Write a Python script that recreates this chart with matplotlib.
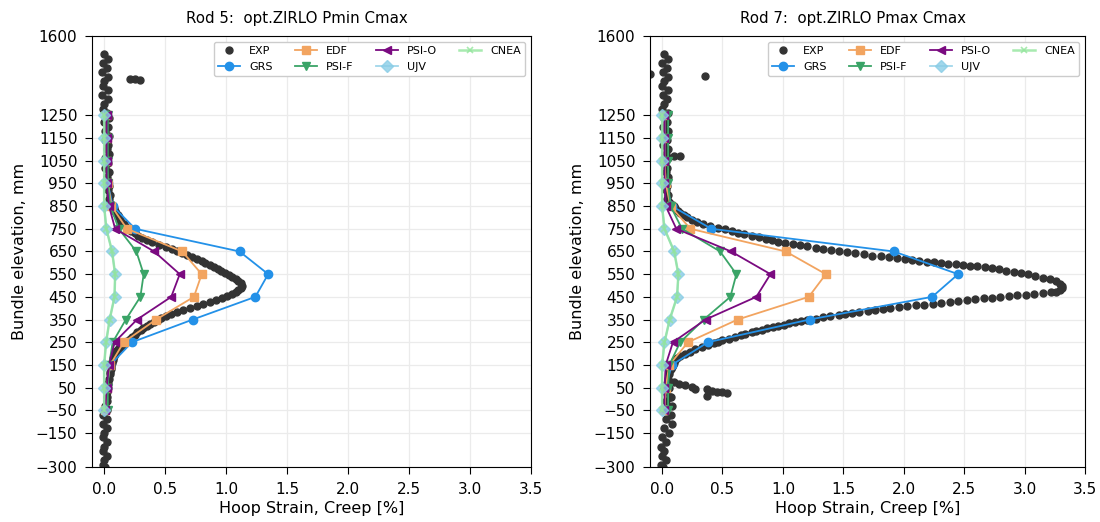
import matplotlib
matplotlib.use("Agg")
import matplotlib.pyplot as plt

plt.rcParams['font.family'] = ['DejaVu Sans']

# model elevations (mm)
elev = [1250, 1150, 1050, 950, 850, 750, 650, 550, 450, 350, 250, 150, 50, -50]
ytick_vals = [-300, -150, -50, 50, 150, 250, 350, 450, 550, 650, 750, 850, 950,
              1050, 1150, 1250, 1600]

# ---- Rod 5 model results (hoop strain, %)
r5_grs = [0.02, 0.02, 0.02, 0.03, 0.07, 0.255, 1.11, 1.345, 1.24, 0.727, 0.228, 0.05, 0.02, 0.01]
r5_edf = [0.02, 0.02, 0.02, 0.03, 0.06, 0.187, 0.64, 0.80, 0.736, 0.426, 0.16, 0.05, 0.02, 0.01]
r5_psif = [0.03, 0.03, 0.03, 0.03, 0.05, 0.12, 0.264, 0.324, 0.297, 0.178, 0.07, 0.04, 0.03, 0.03]
r5_psio = [0.02, 0.02, 0.02, 0.02, 0.04, 0.09, 0.41, 0.62, 0.55, 0.27, 0.085, 0.04, 0.02, 0.01]
r5_ujv = [0.0, 0.0, 0.0, 0.0, 0.0, 0.018, 0.065, 0.09, 0.085, 0.045, 0.016, 0.0, 0.0, 0.0]
r5_cnea = [0.0, 0.0, 0.0, 0.0, 0.0, 0.018, 0.065, 0.09, 0.085, 0.045, 0.016, 0.0, 0.0, 0.0]

# ---- Rod 7 model results (hoop strain, %)
r7_grs = [0.02, 0.02, 0.02, 0.03, 0.08, 0.408, 1.917, 2.45, 2.235, 1.22, 0.38, 0.08, 0.03, 0.02]
r7_edf = [0.02, 0.02, 0.02, 0.03, 0.07, 0.234, 1.023, 1.355, 1.214, 0.626, 0.215, 0.06, 0.03, 0.02]
r7_psif = [0.05, 0.05, 0.05, 0.05, 0.07, 0.165, 0.48, 0.615, 0.565, 0.345, 0.15, 0.06, 0.05, 0.05]
r7_psio = [0.02, 0.02, 0.02, 0.02, 0.03, 0.118, 0.571, 0.897, 0.78, 0.36, 0.09, 0.03, 0.02, 0.02]
r7_ujv = [0.0, 0.0, 0.0, 0.0, 0.0, 0.02, 0.10, 0.135, 0.124, 0.063, 0.02, 0.0, 0.0, 0.0]
r7_cnea = [0.0, 0.0, 0.0, 0.0, 0.0, 0.02, 0.10, 0.135, 0.124, 0.063, 0.02, 0.0, 0.0, 0.0]

# ---- Rod 5 measured profile (elevation mm, strain %)
r5_exp_z = [1520, 1500, 1480, 1460, 1440, 1420, 1400, 1380, 1360, 1340, 1320, 1300,
            1280, 1260, 1240, 1220, 1200, 1180, 1160, 1140, 1120, 1100, 1080, 1060,
            1040, 1020, 1000, 980, 960, 940, 920, 900, 880, 860,
            1410, 1410, 1408,
            850, 840, 830, 820, 810, 800, 790, 780, 770, 760, 750, 740, 730, 720,
            710, 700, 690, 680, 671, 662, 653, 644, 635, 626, 617, 608, 599, 590,
            581, 572, 563, 554, 545, 536, 527, 518, 509, 500, 491, 482, 473, 464,
            455, 446, 437, 428, 419, 410, 401, 392, 383, 374, 365, 356, 347, 338,
            329, 320, 311, 302, 293, 284, 275, 266, 257, 248, 239, 230, 220, 210,
            200, 190, 180, 170, 160, 150, 140, 130, 120,
            110, 90, 70, 50, 30, 10, -10, -30, -50, -70, -90, -110, -130, -150,
            -170, -190, -210, -230, -250, -270, -290, -300]
r5_exp_x = [0.00, 0.03, -0.01, 0.02, -0.015, 0.03, 0.00, -0.01, 0.03, -0.015, 0.03, 0.00,
            -0.01, 0.02, 0.04, 0.00, 0.03, 0.01, 0.04, 0.01, 0.03, 0.02, 0.04, 0.01,
            0.03, 0.01, 0.04, 0.02, 0.03, 0.04, 0.03, 0.05, 0.04, 0.06,
            0.21, 0.25, 0.29,
            0.07, 0.08, 0.09, 0.10, 0.11, 0.12, 0.13, 0.14, 0.16, 0.18, 0.20, 0.22, 0.25, 0.28,
            0.31, 0.35, 0.39, 0.45, 0.51, 0.56, 0.60, 0.64, 0.68, 0.72, 0.76, 0.80, 0.83, 0.87,
            0.90, 0.93, 0.96, 0.99, 1.02, 1.05, 1.08, 1.10, 1.12, 1.13, 1.12, 1.10, 1.08, 1.05,
            1.01, 0.97, 0.92, 0.87, 0.81, 0.76, 0.70, 0.65, 0.60, 0.55, 0.51, 0.47, 0.44, 0.41,
            0.38, 0.35, 0.32, 0.30, 0.27, 0.25, 0.23, 0.21, 0.19, 0.17, 0.15, 0.13, 0.11, 0.10,
            0.09, 0.08, 0.075, 0.07, 0.065, 0.06, 0.06, 0.055, 0.05,
            0.05, 0.04, 0.03, 0.03, 0.02, 0.02, 0.02, 0.01, 0.02, -0.01, 0.02, -0.01, 0.02, 0.00,
            -0.01, 0.02, 0.00, -0.01, 0.02, 0.00, -0.01, 0.01]

# ---- Rod 7 measured profile (elevation mm, strain %)
r7_exp_z = [1520, 1500, 1480, 1460, 1440, 1420, 1400, 1380, 1360, 1340, 1320, 1300,
            1280, 1260, 1240, 1220, 1200, 1180, 1160, 1140, 1120, 1100, 1080, 1060,
            1040, 1020, 1000, 980, 960, 940, 920, 900, 880,
            1431, 1424, 1072, 1072,
            870, 860, 850, 840, 830, 820, 810, 800, 790, 780, 770, 762, 755, 748,
            740, 733, 727, 720, 713, 706, 699, 693, 687, 682, 677, 672, 667, 662,
            657, 652, 647, 642, 637, 632, 628, 624, 620, 616, 612, 608, 605, 602,
            599, 596, 593, 590, 587, 584, 580, 576, 571, 566, 561, 555, 549, 542,
            535, 527, 518, 508, 498, 488, 480, 473, 470, 466, 462, 459, 456, 453,
            450, 447, 443, 439, 435, 431, 427, 423, 419, 416, 413, 409, 405, 400,
            396, 391, 387, 382, 378, 374, 370, 364, 359, 354, 348, 343, 338, 333,
            328, 323, 318, 312, 306, 300, 294, 288, 282, 274, 266, 258, 250, 245,
            236, 227, 218, 209, 200, 190, 180, 170, 160, 150, 140, 130, 120,
            76, 68, 61, 51, 42, 42, 35, 32, 32, 25, 13, 10,
            110, 90, 70, 50, 30, 10, -10, -30, -50, -70, -90, -110, -130, -150,
            -170, -190, -210, -230, -250, -270, -290, -300]
r7_exp_x = [0.02, 0.05, 0.00, 0.04, 0.01, 0.05, 0.02, 0.00, 0.05, 0.01, 0.04, 0.02,
            0.00, 0.05, 0.02, 0.04, 0.01, 0.05, 0.02, 0.04, 0.01, 0.05, 0.03, 0.05,
            0.02, 0.04, 0.03, 0.05, 0.02, 0.04, 0.03, 0.05, 0.04,
            -0.097, 0.353, 0.096, 0.15,
            0.06, 0.075, 0.095, 0.11, 0.13, 0.15, 0.18, 0.21, 0.25, 0.29, 0.34, 0.40, 0.46, 0.52,
            0.58, 0.63, 0.68, 0.74, 0.80, 0.86, 0.91, 0.96, 1.02, 1.08, 1.14, 1.20, 1.27, 1.33,
            1.40, 1.46, 1.53, 1.60, 1.67, 1.74, 1.81, 1.88, 1.94, 2.01, 2.07, 2.13, 2.19, 2.25,
            2.31, 2.37, 2.43, 2.49, 2.55, 2.61, 2.67, 2.73, 2.79, 2.85, 2.91, 2.97, 3.03, 3.09,
            3.15, 3.21, 3.26, 3.29, 3.31, 3.31, 3.29, 3.26, 3.22, 3.15, 3.08, 3.01, 2.94, 2.87,
            2.80, 2.73, 2.66, 2.59, 2.52, 2.45, 2.38, 2.31, 2.24, 2.17, 2.10, 2.03, 1.96, 1.89,
            1.83, 1.76, 1.70, 1.63, 1.57, 1.51, 1.46, 1.39, 1.33, 1.27, 1.20, 1.15, 1.10, 1.05,
            1.01, 0.96, 0.92, 0.87, 0.83, 0.78, 0.74, 0.69, 0.65, 0.60, 0.55, 0.50, 0.46, 0.43,
            0.38, 0.33, 0.27, 0.23, 0.19, 0.15, 0.12, 0.11, 0.10, 0.09, 0.08, 0.07, 0.06,
            0.096, 0.138, 0.193, 0.248, 0.276, 0.372, 0.414, 0.455, 0.497, 0.538, 0.372, 0.069,
            0.06, 0.05, 0.04, 0.06, 0.03, 0.07, 0.03, 0.08, 0.02, 0.07, 0.03, 0.08, 0.02, 0.06,
            0.00, 0.03, -0.01, 0.02, 0.00, 0.03, -0.01, 0.01]

series_style = [
    ("GRS", "#2391E8", "o"),
    ("EDF", "#F2A460", "s"),
    ("PSI-F", "#3AA467", "v"),
    ("PSI-O", "#7A0A80", "<"),
    ("UJV", "#8ACDE6", "D"),
    ("CNEA", "#93E59C", "x"),
]


def draw_rod(ax, title, exp_z, exp_x, models):
    ax.plot(exp_x, exp_z, "o", color="#333333", ms=5, label="EXP", zorder=2)
    for (name, col, mk), vals in zip(series_style, models):
        kw = dict(color=col, marker=mk, lw=1.3, ms=6, label=name, zorder=3)
        if name == "UJV":
            kw.update(alpha=0.8)
        if name == "CNEA":
            kw.update(ms=5, mew=1.2, lw=1.8, alpha=0.8)
        ax.plot(vals, elev, **kw)
    ax.set_xlim(-0.1, 3.5)
    ax.set_ylim(-300, 1600)
    ax.set_yticks(ytick_vals)
    ax.set_xticks([0.0, 0.5, 1.0, 1.5, 2.0, 2.5, 3.0, 3.5])
    ax.grid(True, color="#ebebeb", lw=0.9)
    ax.set_axisbelow(True)
    ax.tick_params(labelsize=11, length=5, pad=5.5)
    ax.set_title(title, fontsize=10.8, pad=9, x=0.467)
    ax.set_xlabel("Hoop Strain, Creep [%]", fontsize=11.5, labelpad=3)
    ax.set_ylabel("Bundle elevation, mm", fontsize=11.5, labelpad=6)
    ax.legend(loc="upper right", ncol=4, fontsize=8, handlelength=2.0,
              handletextpad=0.8, columnspacing=2.0, borderpad=0.4,
              labelspacing=0.5, framealpha=1.0, edgecolor="#cccccc")


fig = plt.figure(figsize=(11, 5.22), dpi=100)
ax1 = fig.add_axes([0.0836, 0.1054, 0.3991, 0.8257])
ax2 = fig.add_axes([0.5909, 0.1054, 0.3955, 0.8257])

draw_rod(ax1, "Rod 5:  opt.ZIRLO Pmin Cmax", r5_exp_z, r5_exp_x,
         [r5_grs, r5_edf, r5_psif, r5_psio, r5_ujv, r5_cnea])
draw_rod(ax2, "Rod 7:  opt.ZIRLO Pmax Cmax", r7_exp_z, r7_exp_x,
         [r7_grs, r7_edf, r7_psif, r7_psio, r7_ujv, r7_cnea])

fig.savefig("out.png", dpi=100)
